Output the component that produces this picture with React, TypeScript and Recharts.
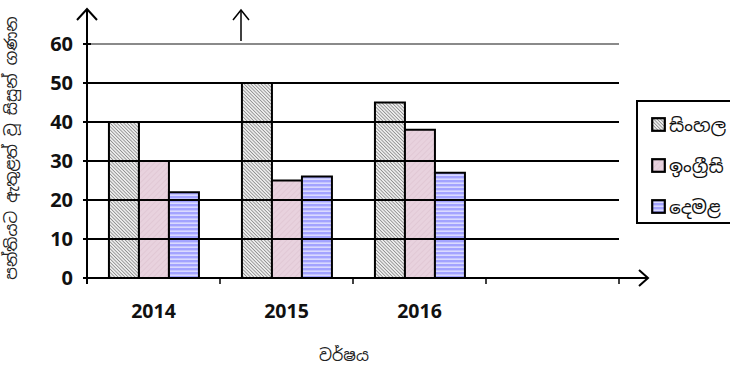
import React from 'react';
import {
  BarChart,
  Bar,
  XAxis,
  YAxis,
  ReferenceLine,
  Legend,
} from 'recharts';

// Students enrolled per medium, by year
const years = ['2014', '2015', '2016', ''];
const sinhala = [40, 50, 45, null];
const english = [30, 25, 38, null];
const tamil = [22, 26, 27, null];
const yTicks = [0, 10, 20, 30, 40, 50, 60];
const seriesNames = ['සිංහල', 'ඉංග්\u200Dරීසි', 'දෙමළ'];
const seriesFills = ['url(#hatchGray)', 'url(#hatchPink)', 'url(#stripeBlue)'];
const xTitle = 'වර්ෂය';
const yTitle = 'පන්තියට ඇතුළත් වූ සිසුන් ගණන';

const W = 730;
const H = 369;
const PLOT_LEFT = 87;
const PLOT_TOP = 44;
const PLOT_RIGHT = 619;
const PLOT_BOTTOM = 278;
const Y_AXIS_W = 40;
const X_AXIS_H = 40;
const BAND = (PLOT_RIGHT - PLOT_LEFT) / years.length;

const SINHALA_FONT = '"Noto Sans Sinhala", "Iskoola Pota", "Noto Sans", sans-serif';
const NUM_FONT = '"Open Sans", Arial, sans-serif';

const rows = years.map((year, i) => ({
  year,
  sinhala: sinhala[i],
  english: english[i],
  tamil: tamil[i],
}));

function YTick({ x, y, payload }: any) {
  return (
    <g>
      <line x1={x - 4} x2={x + 4} y1={y} y2={y} stroke="#000" strokeWidth={2} />
      <text
        x={x - 14}
        y={y}
        dy="0.36em"
        textAnchor="end"
        fontFamily={NUM_FONT}
        fontWeight={700}
        fontSize={20}
        fill="#111"
      >
        {payload.value}
      </text>
    </g>
  );
}

function XTick({ x, y, payload, index }: any) {
  const left = x - BAND / 2;
  const right = x + BAND / 2;
  return (
    <g>
      {index > 0 && <line x1={left} x2={left} y1={y} y2={y + 6} stroke="#000" strokeWidth={1.5} />}
      {index === years.length - 1 && (
        <line x1={right} x2={right} y1={y} y2={y + 6} stroke="#000" strokeWidth={1.5} />
      )}
      <text
        x={x}
        y={y + 40}
        textAnchor="middle"
        fontFamily={NUM_FONT}
        fontWeight={700}
        fontSize={19.5}
        fill="#111"
      >
        {payload.value}
      </text>
    </g>
  );
}

function LegendBox() {
  return (
    <div
      style={{
        width: 120,
        height: 124,
        border: '2px solid #000',
        boxSizing: 'border-box',
        background: '#fff',
        paddingTop: 2,
        paddingLeft: 13,
      }}
    >
      {seriesNames.map((name, i) => (
        <div
          key={name}
          style={{ display: 'flex', alignItems: 'center', height: 41, gap: 3 }}
        >
          <svg width={15} height={15}>
            <rect x={1.2} y={1.2} width={12.6} height={12.6} fill={seriesFills[i]} stroke="#000" strokeWidth={2.2} />
          </svg>
          <span style={{ fontFamily: SINHALA_FONT, fontSize: 18.5, color: '#111', whiteSpace: 'nowrap' }}>
            {name}
          </span>
        </div>
      ))}
    </div>
  );
}

export default function App() {
  return (
    <div style={{ position: 'absolute', left: 0, top: 0, width: W, height: H, background: '#fff', overflow: 'hidden' }}>
      <BarChart
        width={W}
        height={H}
        data={rows}
        margin={{
          top: PLOT_TOP,
          right: W - PLOT_RIGHT,
          bottom: H - PLOT_BOTTOM - X_AXIS_H,
          left: PLOT_LEFT - Y_AXIS_W,
        }}
        barCategoryGap="16.5%"
        barGap={0}
      >
        <defs>
          <pattern id="hatchGray" width="2.4" height="2.4" patternUnits="userSpaceOnUse" patternTransform="rotate(-45)">
            <rect width="2.4" height="2.4" fill="#ececec" />
            <line x1="0" y1="0" x2="0" y2="2.4" stroke="#6e6e6e" strokeWidth="1.2" />
          </pattern>
          <pattern id="hatchPink" width="4" height="4" patternUnits="userSpaceOnUse" patternTransform="rotate(45)">
            <rect width="4" height="4" fill="#e8d2de" />
            <line x1="0" y1="0" x2="0" y2="4" stroke="#dbbfcd" strokeWidth="1" />
          </pattern>
          <pattern id="stripeBlue" width="4" height="4" patternUnits="userSpaceOnUse">
            <rect width="4" height="4" fill="#a3a3ff" />
            <rect y="2.5" width="4" height="1.3" fill="#e6e6ff" />
          </pattern>
        </defs>
        {yTicks.slice(1).map((v) => (
          <ReferenceLine
            key={v}
            y={v}
            stroke={v === 60 ? '#8a8a8a' : '#000'}
            strokeWidth={2}
          />
        ))}
        <XAxis
          dataKey="year"
          height={X_AXIS_H}
          axisLine={{ stroke: '#000', strokeWidth: 2 }}
          tickLine={false}
          tickSize={0}
          tickMargin={0}
          tick={<XTick />}
          interval={0}
        />
        <YAxis
          domain={[0, 60]}
          ticks={yTicks}
          width={Y_AXIS_W}
          axisLine={{ stroke: '#000', strokeWidth: 2 }}
          tickLine={false}
          tickSize={0}
          tickMargin={0}
          tick={<YTick />}
        />
        <YAxis
          yAxisId="frame"
          orientation="right"
          width={0}
          domain={[0, 60]}
          tick={false}
          tickLine={false}
          axisLine={{ stroke: '#9a9a9a', strokeWidth: 2 }}
        />
        <Legend
          layout="vertical"
          align="center"
          verticalAlign="middle"
          wrapperStyle={{ left: 636, top: 100, width: 120 }}
          content={<LegendBox />}
        />
        <Bar dataKey="sinhala" name={seriesNames[0]} fill={seriesFills[0]} stroke="#000" strokeWidth={2} isAnimationActive={false} />
        <Bar dataKey="english" name={seriesNames[1]} fill={seriesFills[1]} stroke="#000" strokeWidth={2} isAnimationActive={false} />
        <Bar dataKey="tamil" name={seriesNames[2]} fill={seriesFills[2]} stroke="#000" strokeWidth={2} isAnimationActive={false} />
      </BarChart>

      {/* axis arrows and titles */}
      <svg
        width={W}
        height={H}
        style={{ position: 'absolute', left: 0, top: 0, pointerEvents: 'none' }}
      >
        <g stroke="#000" fill="none" strokeWidth={2}>
          <line x1={PLOT_LEFT} x2={PLOT_LEFT} y1={PLOT_BOTTOM + 6} y2={PLOT_TOP} />
          <line x1={PLOT_LEFT} x2={PLOT_LEFT} y1={PLOT_TOP} y2={10} />
          <polyline points={`${PLOT_LEFT - 10},20 ${PLOT_LEFT},9 ${PLOT_LEFT + 10},20`} />
          <line x1={PLOT_RIGHT} x2={648} y1={PLOT_BOTTOM} y2={PLOT_BOTTOM} />
          <polyline points={`639,270 648,${PLOT_BOTTOM} 639,286`} />
          <line x1={241} x2={241} y1={41} y2={11} strokeWidth={1.5} />
          <polyline points="233,20 241,10 249,20" strokeWidth={1.5} />
        </g>
        <text
          x={344}
          y={361}
          textAnchor="middle"
          fontFamily={SINHALA_FONT}
          fontSize={16}
          fill="#222"
        >
          {xTitle}
        </text>
        <text
          transform={`translate(17, 148) rotate(-90)`}
          textAnchor="middle"
          fontFamily={SINHALA_FONT}
          fontSize={16}
          fill="#222"
        >
          {yTitle}
        </text>
      </svg>
    </div>
  );
}
